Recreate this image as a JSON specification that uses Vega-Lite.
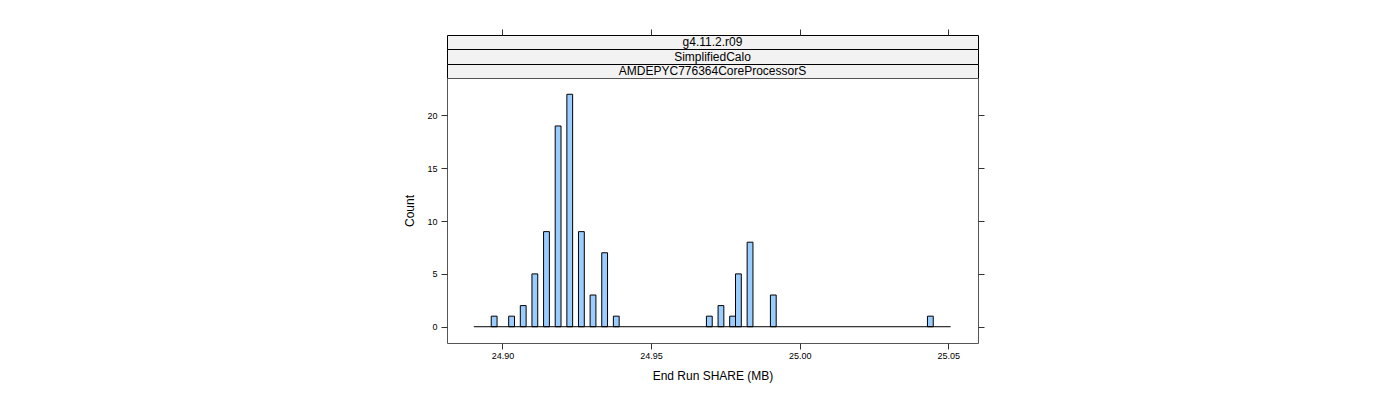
{
  "$schema": "https://vega.github.io/schema/vega-lite/v6.json",
  "padding": {"left": 403, "top": 28, "right": 5, "bottom": 5},
  "bounds": "flush",
  "spacing": 0,
  "config": {
    "font": "Liberation Sans",
    "axis": {"grid": false, "domain": false, "tickColor": "#333", "tickSize": 6, "labelFontSize": 9, "labelColor": "#000", "titleFontSize": 12, "titleFontWeight": "normal", "titleColor": "#000", "labelFont": "Liberation Sans", "titleFont": "Liberation Sans"}
  },
  "datasets": {
    "bins": [
      {"start": 24.89621, "end": 24.89817, "count": 1},
      {"start": 24.90208, "end": 24.90404, "count": 1},
      {"start": 24.90599, "end": 24.90795, "count": 2},
      {"start": 24.90991, "end": 24.91186, "count": 5},
      {"start": 24.91382, "end": 24.91578, "count": 9},
      {"start": 24.91773, "end": 24.91969, "count": 19},
      {"start": 24.92165, "end": 24.92360, "count": 22},
      {"start": 24.92556, "end": 24.92752, "count": 9},
      {"start": 24.92947, "end": 24.93143, "count": 3},
      {"start": 24.93339, "end": 24.93534, "count": 7},
      {"start": 24.93730, "end": 24.93925, "count": 1},
      {"start": 24.96860, "end": 24.97056, "count": 1},
      {"start": 24.97252, "end": 24.97447, "count": 2},
      {"start": 24.97643, "end": 24.97839, "count": 1},
      {"start": 24.97839, "end": 24.98034, "count": 5},
      {"start": 24.98230, "end": 24.98426, "count": 8},
      {"start": 24.99013, "end": 24.99208, "count": 3},
      {"start": 25.04296, "end": 25.04491, "count": 1}
    ],
    "range": [{"start": 24.89034, "end": 25.05077}]
  },
  "vconcat": [
    {
      "width": 531, "height": 14,
      "data": {"values": [{"label": "g4.11.2.r09"}]},
      "mark": {"type": "text", "fontSize": 12, "font": "Liberation Sans", "color": "#000"},
      "encoding": {"text": {"field": "label"}},
      "view": {"fill": "#f2f2f2", "stroke": "#000"}
    },
    {
      "width": 531, "height": 15,
      "data": {"values": [{"label": "SimplifiedCalo"}]},
      "mark": {"type": "text", "fontSize": 12, "font": "Liberation Sans", "color": "#000"},
      "encoding": {"text": {"field": "label"}},
      "view": {"fill": "#f2f2f2", "stroke": "#000"}
    },
    {
      "width": 531, "height": 14,
      "data": {"values": [{"label": "AMDEPYC776364CoreProcessorS"}]},
      "mark": {"type": "text", "fontSize": 12, "font": "Liberation Sans", "color": "#000"},
      "encoding": {"text": {"field": "label"}},
      "view": {"fill": "#f2f2f2", "stroke": "#000"}
    },
    {
      "width": 531, "height": 265,
      "view": {"stroke": "#555", "fill": null},
      "resolve": {"axis": {"x": "independent", "y": "independent"}},
      "layer": [
        {
          "data": {"name": "bins"},
          "mark": {"type": "bar", "fill": "#99ccff", "stroke": "#000", "strokeWidth": 1},
          "encoding": {
            "x": {"field": "start", "type": "quantitative", "scale": {"domain": [24.88133, 25.05997], "nice": false, "zero": false},
                  "axis": {"orient": "bottom", "values": [24.90, 24.95, 25.00, 25.05], "format": ".2f", "title": "End Run SHARE (MB)", "labelPadding": 2, "titlePadding": 10}},
            "x2": {"field": "end"},
            "y": {"field": "count", "type": "quantitative", "scale": {"domain": [-1.54, 23.54], "nice": false, "zero": false},
                  "axis": {"orient": "left", "values": [0, 5, 10, 15, 20], "title": "Count", "labelPadding": 4, "titlePadding": 10}},
            "y2": {"datum": 0}
          }
        },
        {
          "data": {"name": "range"},
          "mark": {"type": "rule", "color": "#000", "strokeWidth": 1},
          "encoding": {
            "x": {"field": "start", "type": "quantitative", "scale": {"domain": [24.88133, 25.05997], "nice": false, "zero": false},
                  "axis": {"orient": "top", "values": [24.90, 24.95, 25.00, 25.05], "labels": false, "title": null, "offset": 43}},
            "x2": {"field": "end"},
            "y": {"datum": 0, "type": "quantitative", "scale": {"domain": [-1.54, 23.54], "nice": false, "zero": false},
                  "axis": {"orient": "right", "values": [0, 5, 10, 15, 20], "labels": false, "title": null}}
          }
        }
      ]
    }
  ]
}
